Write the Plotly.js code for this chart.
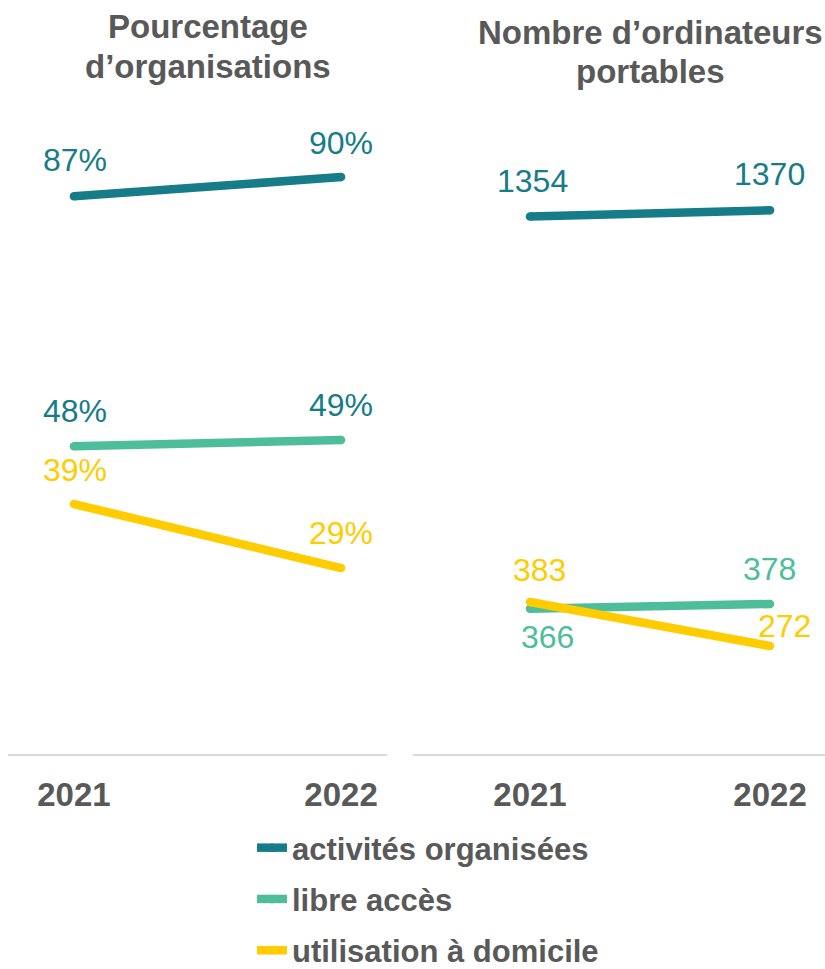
<!DOCTYPE html>
<html>
<head>
<meta charset="utf-8">
<script src="https://cdn.plot.ly/plotly-3.0.1.min.js"></script>
<style>html,body{margin:0;padding:0;background:#fff;}#chart{width:825px;height:969px;}</style>
</head>
<body>
<div id="chart"></div>
<script>
// ---- data ----
const years = ['2021', '2022'];
const seriesNames = ['activités organisées', 'libre accès', 'utilisation à domicile'];
const pctActivites = [87, 90];
const pctLibre = [48, 49];
const pctDomicile = [39, 29];
const nbActivites = [1354, 1370];
const nbLibre = [366, 378];
const nbDomicile = [383, 272];
const panelTitleLines = [['Pourcentage', 'd’organisations'], ['Nombre d’ordinateurs', 'portables']];

// ---- style ----
const colTeal = '#157c88';
const colGreen = '#4dbd9a';
const colYellow = '#ffcc00';
const gray = '#595959';
const FONT = 'Liberation Sans, Arial, sans-serif';
const lineW = 8.5;

const leftSeries = [pctActivites, pctLibre, pctDomicile];
const rightSeries = [nbActivites, nbLibre, nbDomicile];
const colors = [colTeal, colGreen, colYellow];
const groups = ['a', 'b', 'c'];

const traces = [];
leftSeries.forEach((vals, i) => {
  traces.push({
    x: years, y: vals, xaxis: 'x', yaxis: 'y', type: 'scatter', mode: 'lines+markers',
    name: seriesNames[i], legendgroup: groups[i], showlegend: true,
    line: {color: colors[i], width: lineW},
    marker: {color: colors[i], size: lineW},
    hoverinfo: 'skip'
  });
});
rightSeries.forEach((vals, i) => {
  traces.push({
    x: years, y: vals, xaxis: 'x2', yaxis: 'y2', type: 'scatter', mode: 'lines+markers',
    name: seriesNames[i], legendgroup: groups[i], showlegend: false,
    line: {color: colors[i], width: lineW},
    marker: {color: colors[i], size: lineW},
    hoverinfo: 'skip'
  });
});

// label styling: colour and [xshift, yshift] per point
const leftLabelColors = [colTeal, colTeal, colYellow];
const leftShifts = [[[1, 36], [0, 34]], [[1, 35], [0, 35]], [[1, 34], [0, 35]]];
const rightLabelColors = [colTeal, colGreen, colYellow];
const rightShifts = [[[2, 36], [-1, 36]], [[17, -28], [-1, 35]], [[9, 32], [14, 20]]];

const annotations = [];
leftSeries.forEach((vals, i) => {
  vals.forEach((v, j) => {
    annotations.push({
      xref: 'x', yref: 'y', x: j, y: v, text: v + '%', showarrow: false,
      xanchor: 'center', yanchor: 'middle', xshift: leftShifts[i][j][0], yshift: leftShifts[i][j][1],
      font: {family: FONT, size: 32, color: leftLabelColors[i]}
    });
  });
});
rightSeries.forEach((vals, i) => {
  vals.forEach((v, j) => {
    annotations.push({
      xref: 'x2', yref: 'y2', x: j, y: v, text: String(v), showarrow: false,
      xanchor: 'center', yanchor: 'middle', xshift: rightShifts[i][j][0], yshift: rightShifts[i][j][1],
      font: {family: FONT, size: 32, color: rightLabelColors[i]}
    });
  });
});
// panel titles, one annotation per line
const titleX = [208, 650];
const titleY = [[27, 66], [33, 71]];
panelTitleLines.forEach((lines, p) => {
  lines.forEach((txt, k) => {
    annotations.push({
      xref: 'paper', yref: 'paper', x: titleX[p] / 825, y: 1 - titleY[p][k] / 969, text: txt, showarrow: false,
      xanchor: 'center', yanchor: 'middle',
      font: {family: FONT, size: 33, color: gray, weight: 'bold'}
    });
  });
});

const yDom = [(969 - 754) / 969, (969 - 113) / 969];
const xAxisCommon = {
  type: 'category', showgrid: false, zeroline: false, showline: true,
  linecolor: '#d9d9d9', linewidth: 2, ticks: '', ticklabelstandoff: 10,
  tickfont: {family: FONT, size: 33, color: gray, weight: 'bold'}, fixedrange: true
};
const yAxisCommon = {showgrid: false, zeroline: false, showline: false, showticklabels: false, ticks: '', fixedrange: true, domain: yDom};

const layout = {
  width: 825, height: 969,
  margin: {l: 0, r: 0, t: 0, b: 0, autoexpand: false},
  paper_bgcolor: '#ffffff', plot_bgcolor: '#ffffff',
  showlegend: true,
  legend: {
    orientation: 'v', x: 252 / 825, xanchor: 'left', yref: 'container', y: 1 - 821 / 969, yanchor: 'top',
    font: {family: FONT, size: 31, color: gray, weight: 'bold'},
    tracegroupgap: 8, bgcolor: 'rgba(0,0,0,0)', borderwidth: 0
  },
  xaxis: Object.assign({}, xAxisCommon, {domain: [8 / 825, 387 / 825], range: [-0.247, 1.172], anchor: 'y'}),
  xaxis2: Object.assign({}, xAxisCommon, {domain: [413 / 825, 1], range: [-0.4875, 1.229], anchor: 'y2'}),
  yaxis: Object.assign({}, yAxisCommon, {range: [0, 100], anchor: 'x'}),
  yaxis2: Object.assign({}, yAxisCommon, {range: [0, 1615], anchor: 'x2'}),
  annotations: annotations
};

Plotly.newPlot('chart', traces, layout, {displayModeBar: false, staticPlot: true});
</script>
</body>
</html>
